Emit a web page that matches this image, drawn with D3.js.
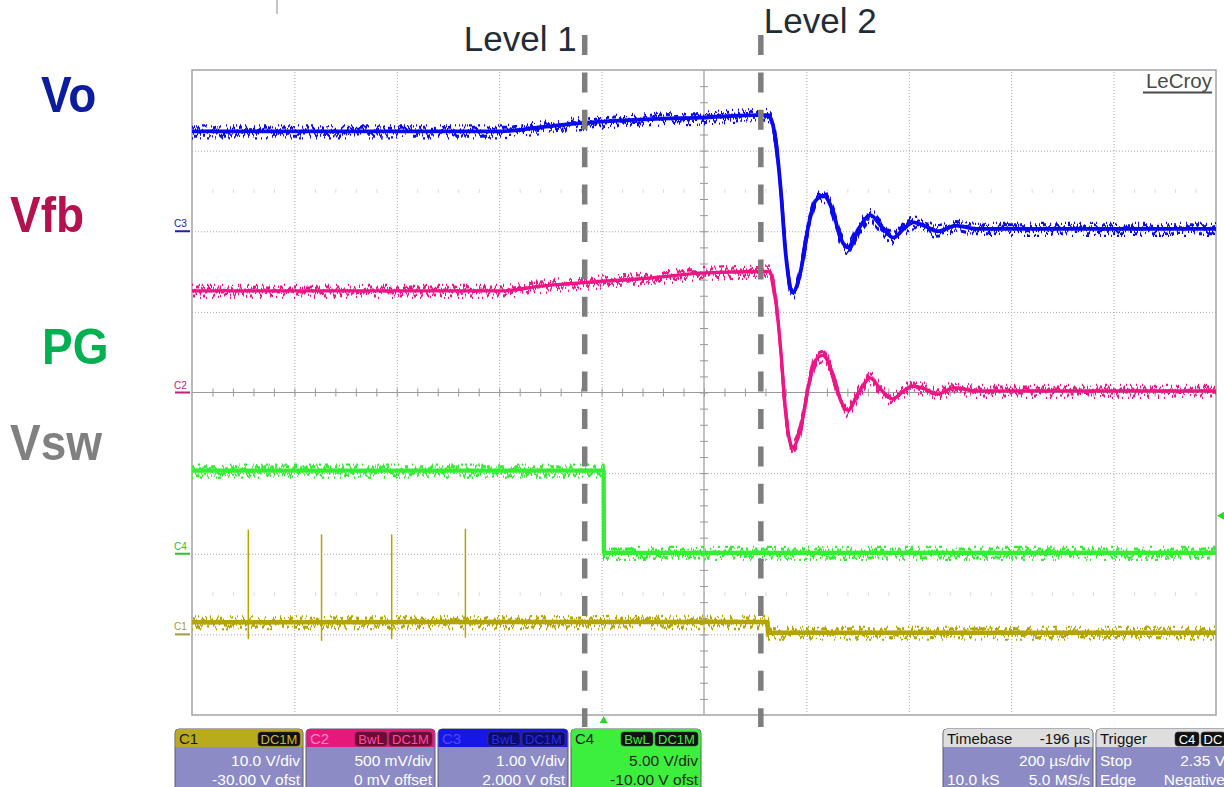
<!DOCTYPE html>
<html>
<head>
<meta charset="utf-8">
<script src="https://cdn.jsdelivr.net/npm/d3@7"></script>
<style>
  body { margin: 0; background: #fff; }
  svg { display: block; font-family: "Liberation Sans", Arial, sans-serif; }
</style>
</head>
<body>
<svg id="scope" width="1224" height="787"></svg>
<script>
// ---- acquisition settings -------------------------------------------------
const timePerDiv = 200;          // µs/div
const timebaseDelay = -196;      // µs
const channelNames = ["C1", "C2", "C3", "C4"];
const voltsPerDiv = [10, 0.5, 1, 5];
const channelOffsets = [-30, 0, 2, -10];
const triggerLevel = 2.35;       // V on C4

// ---- captured traces (time in µs, value in V) ------------------------------
// C3: output voltage Vo
const voTime = [-804, -200, -123, -45, 92, 189, 307, 322, 336, 346, 355, 369, 385, 400, 414, 430,
                447, 463, 477, 498, 521, 541, 566, 586, 605, 629, 652, 688, 727, 1196];
const voVolt = [1.24, 1.24, 1.29, 1.34, 1.39, 1.41, 1.44, 1.44, 1.13, 0.51, -0.24, -0.76, -0.49, 0.07, 0.38, 0.44,
                0.26, -0.09, -0.20, 0.03, 0.20, 0.07, -0.08, 0.03, 0.11, 0.06, 0.00, 0.07, 0.03, 0.03];
// C2: feedback voltage Vfb
const vfbTime = [-804, -200, -123, -45, 92, 189, 307, 324, 336, 346, 355, 369, 385, 400, 414, 428,
                 447, 463, 477, 498, 521, 541, 564, 586, 603, 629, 652, 684, 727, 1196];
const vfbVolt = [0.63, 0.63, 0.66, 0.68, 0.71, 0.74, 0.75, 0.75, 0.57, 0.26, -0.11, -0.34, -0.22, 0.04, 0.20, 0.23,
                 0.12, -0.05, -0.11, 0.00, 0.09, 0.02, -0.04, 0.01, 0.04, 0.02, -0.01, 0.03, 0.01, 0.01];
// C4: power-good PG
const pgTime = [-804, 0, 0.5, 1196];
const pgVolt = [5.15, 5.15, 0.05, 0.05];
// C1: switch node Vsw (baseline, then the narrow switching spikes)
const swTime = [-804, 320, 321, 1196];
const swVolt = [1.5, 1.55, 0.2, 0.2];
const swSpikeTime = [-694, -551, -414, -270];
const swSpikePeak = [13.0, 12.4, 12.4, 13.1];
const swSpikeDip = [-0.6, -0.8, -0.6, -0.4];

// ---- annotations -----------------------------------------------------------
const levelNames = ["Level 1", "Level 2"];
const levelTimes = [-37, 307];
const signalNames = ["Vo", "Vfb", "PG", "Vsw"];
const signalColors = ["#0b1c9e", "#b3124f", "#00b050", "#808080"];

// ---- geometry & scales -----------------------------------------------------
const plot = { left: 192, right: 1216, top: 70, bottom: 715 };
const centerTime = -timebaseDelay;
const x = d3.scaleLinear()
  .domain([centerTime - 5 * timePerDiv, centerTime + 5 * timePerDiv])
  .range([plot.left, plot.right]);
const yDiv = d3.scaleLinear().domain([-4, 4]).range([plot.bottom, plot.top]);
const yChannel = i => d3.scaleLinear()
  .domain([-4 * voltsPerDiv[i] - channelOffsets[i], 4 * voltsPerDiv[i] - channelOffsets[i]])
  .range([plot.bottom, plot.top]);

const svg = d3.select("#scope");
const defs = svg.append("defs");

// noise texture for the acquired traces (vertical jitter only)
function jitterFilter(id, seed, freq, scale) {
  const f = defs.append("filter").attr("id", id)
    .attr("filterUnits", "userSpaceOnUse").attr("x", 0).attr("y", 0)
    .attr("width", 1224).attr("height", 787)
    .attr("color-interpolation-filters", "sRGB");
  f.append("feTurbulence").attr("type", "fractalNoise")
    .attr("baseFrequency", `${freq} 0.01`).attr("numOctaves", 2).attr("seed", seed).attr("result", "n");
  f.append("feColorMatrix").attr("in", "n").attr("type", "matrix")
    .attr("values", "0 0 0 0 0.5  0 3.4 0 0 -1.2  0 0 0 0 0  0 0 0 0 1").attr("result", "m");
  f.append("feDisplacementMap").attr("in", "SourceGraphic").attr("in2", "m")
    .attr("scale", scale).attr("xChannelSelector", "R").attr("yChannelSelector", "G");
}
jitterFilter("jitterA", 7, 0.5, 13);
jitterFilter("jitterB", 23, 0.3, 9);

defs.append("clipPath").attr("id", "plotClip").append("rect")
  .attr("x", plot.left).attr("y", plot.top - 6)
  .attr("width", plot.right - plot.left).attr("height", plot.bottom - plot.top + 12);

defs.append("filter").attr("id", "soft")
  .attr("filterUnits", "userSpaceOnUse").attr("x", 0).attr("y", 0)
  .attr("width", 1224).attr("height", 787)
  .append("feGaussianBlur").attr("stdDeviation", 0.6);

// small tick at the top edge
svg.append("line").attr("x1", 277).attr("x2", 277).attr("y1", 0).attr("y2", 14)
  .attr("stroke", "#8a8a8a").attr("stroke-width", 1);

// ---- graticule -------------------------------------------------------------
const divTimes = d3.range(-4, 5).map(k => centerTime + k * timePerDiv);
const gridX = svg.append("g").attr("transform", `translate(0,${plot.bottom})`)
  .call(d3.axisBottom(x).tickValues(divTimes).tickSize(-(plot.bottom - plot.top)).tickFormat(""));
const gridY = svg.append("g").attr("transform", `translate(${plot.left},0)`)
  .call(d3.axisLeft(yDiv).tickValues([-3, -2, -1, 1, 2, 3]).tickSize(-(plot.right - plot.left)).tickFormat(""));
[gridX, gridY].forEach(g => {
  g.select(".domain").remove();
  g.selectAll(".tick line").attr("stroke", "#a8a8a8").attr("stroke-width", 1)
    .attr("stroke-dasharray", "1,2");
});
gridX.selectAll(".tick").filter(d => d === centerTime).remove();

// faint half-division rows
const fifthTimes = d3.range(-25, 26).map(k => centerTime + k * timePerDiv / 5);
[-2.5, 2.5].forEach(d => {
  const g = svg.append("g").attr("transform", `translate(0,${yDiv(d) - 2})`)
    .call(d3.axisBottom(x).tickValues(fifthTimes.slice(1, -1)).tickSize(4).tickFormat(""));
  g.select(".domain").remove();
  g.selectAll(".tick line").attr("stroke", "#dcdcdc");
});

// center cross with fifth-division ticks
svg.append("line").attr("x1", plot.left).attr("x2", plot.right)
  .attr("y1", yDiv(0)).attr("y2", yDiv(0)).attr("stroke", "#9a9a9a").attr("stroke-width", 1.2);
svg.append("line").attr("x1", x(centerTime)).attr("x2", x(centerTime))
  .attr("y1", plot.top).attr("y2", plot.bottom).attr("stroke", "#9a9a9a").attr("stroke-width", 1.2);
const hTicks = svg.append("g").attr("transform", `translate(0,${yDiv(0) - 4})`)
  .call(d3.axisBottom(x).tickValues(fifthTimes.slice(1, -1)).tickSize(8).tickFormat(""));
const vTicks = svg.append("g").attr("transform", `translate(${x(centerTime) - 4},0)`)
  .call(d3.axisRight(yDiv).tickValues(d3.range(-19, 20).map(k => k / 5)).tickSize(8).tickFormat(""));
[hTicks, vTicks].forEach(g => {
  g.select(".domain").remove();
  g.selectAll(".tick line").attr("stroke", "#9a9a9a").attr("stroke-width", 1);
});

// frame
svg.append("rect").attr("x", plot.left).attr("y", plot.top)
  .attr("width", plot.right - plot.left).attr("height", plot.bottom - plot.top)
  .attr("fill", "none").attr("stroke", "#a4a4a4").attr("stroke-width", 1.5);

// LeCroy mark
svg.append("text").attr("x", 1212).attr("y", 88).attr("text-anchor", "end")
  .attr("font-size", 20.5).attr("fill", "#4a4a4a").text("LeCroy");
svg.append("line").attr("x1", 1143).attr("x2", 1212).attr("y1", 92.5).attr("y2", 92.5)
  .attr("stroke", "#4a4a4a").attr("stroke-width", 1.8);

// ---- channel ground markers --------------------------------------------------
const traceColors = ["#b4a400", "#ee1585", "#0a0aee", "#33ee33"];
const markerColors = ["#a39a3a", "#c0207a", "#2020b0", "#30c030"];
channelNames.forEach((name, i) => {
  const y0 = yChannel(i)(0);
  svg.append("text").attr("x", 174).attr("y", y0 - 4).attr("font-size", 10)
    .attr("fill", markerColors[i]).text(name);
  svg.append("rect").attr("x", 175).attr("y", y0 - 1).attr("width", 15).attr("height", 2)
    .attr("fill", markerColors[i]);
});

// ---- traces ----------------------------------------------------------------
const traces = [
  { ch: 0, t: swTime, v: swVolt, curve: d3.curveLinear, core: 4.5 },
  { ch: 3, t: pgTime, v: pgVolt, curve: d3.curveLinear, core: 4.2 },
  { ch: 1, t: vfbTime, v: vfbVolt, curve: d3.curveMonotoneX, core: 3.4 },
  { ch: 2, t: voTime, v: voVolt, curve: d3.curveMonotoneX, core: 3.8 }
];
const traceLayer = svg.append("g").attr("clip-path", "url(#plotClip)");
traces.forEach(tr => {
  const ys = yChannel(tr.ch);
  const pts = tr.t.map((t, k) => [t, tr.v[k]]);
  const d = d3.line().x(p => x(p[0])).y(p => ys(p[1])).curve(tr.curve)(pts);
  const g = traceLayer.append("g").attr("fill", "none").attr("stroke", traceColors[tr.ch])
    .attr("stroke-linejoin", "round");
  g.append("path").attr("d", d).attr("stroke-width", tr.core);
  g.append("path").attr("d", d).attr("stroke-width", 2.2).attr("filter", "url(#jitterA)");
  g.append("path").attr("d", d).attr("stroke-width", 3).attr("filter", "url(#jitterB)");
});
// Vsw switching spikes: narrow single-sample excursions
{
  const ys = yChannel(0);
  traceLayer.selectAll(".spike").data(swSpikeTime).enter().append("line")
    .attr("x1", t => x(t)).attr("x2", t => x(t))
    .attr("y1", (t, k) => ys(swSpikePeak[k])).attr("y2", (t, k) => ys(swSpikeDip[k]))
    .attr("stroke", traceColors[0]).attr("stroke-width", 1.5);
}

// ---- trigger markers -------------------------------------------------------
const trigY = yChannel(3)(triggerLevel);
svg.append("path").attr("d", `M1217,${trigY} L1224,${trigY - 4} L1224,${trigY + 4} Z`).attr("fill", "#22dd22");
svg.append("path").attr("d", `M${x(0)},716 L${x(0) - 4},723 L${x(0) + 4},723 Z`).attr("fill", "#22dd22");

// ---- level annotations -----------------------------------------------------
levelTimes.forEach(t => {
  svg.append("line").attr("x1", x(t)).attr("x2", x(t)).attr("y1", 35).attr("y2", 727)
    .attr("stroke", "#7e7e7e").attr("stroke-width", 5.5)
    .attr("stroke-dasharray", "20 17.4").attr("filter", "url(#soft)");
});
svg.append("text").attr("x", x(levelTimes[0]) - 8).attr("y", 51).attr("text-anchor", "end")
  .attr("font-size", 35).attr("fill", "#1f2d36").text(levelNames[0]);
svg.append("text").attr("x", x(levelTimes[1]) + 3).attr("y", 33)
  .attr("font-size", 35).attr("fill", "#1f2d36").text(levelNames[1]);

// ---- signal names ----------------------------------------------------------
const labelPos = [[41, 112], [10, 232], [42, 364], [10, 460]];
signalNames.forEach((s, i) => {
  svg.append("text")
    .attr("transform", `translate(${labelPos[i][0]},${labelPos[i][1]}) scale(1,1.1)`)
    .attr("font-size", 46).attr("font-weight", "bold").attr("fill", signalColors[i]).text(s);
});

// ---- channel descriptor boxes ---------------------------------------------
const bodyFill = "#8c8bc6";
function badge(g, xRight, label, bg, fg, w) {
  g.append("rect").attr("x", xRight - w).attr("y", 732).attr("width", w).attr("height", 14)
    .attr("rx", 3).attr("fill", bg).attr("stroke", "#444").attr("stroke-width", 0.6);
  g.append("text").attr("x", xRight - w / 2).attr("y", 744).attr("text-anchor", "middle")
    .attr("font-size", 13).attr("fill", fg).text(label);
  return xRight - w - 2;
}
function box(cfg) {
  const g = svg.append("g");
  g.append("rect").attr("x", cfg.x).attr("y", 729).attr("width", cfg.w).attr("height", 70)
    .attr("rx", 4).attr("fill", cfg.body).attr("stroke", "#5a5a6a").attr("stroke-width", 1);
  g.append("path")
    .attr("d", `M${cfg.x + 0.5},747 V733 a4,4 0 0 1 4,-4 H${cfg.x + cfg.w - 4.5} a4,4 0 0 1 4,4 V747 Z`)
    .attr("fill", cfg.head);
  g.append("text").attr("x", cfg.x + 4).attr("y", 744).attr("font-size", 15)
    .attr("fill", cfg.headText).text(cfg.title);
  if (cfg.headRight) {
    g.append("text").attr("x", cfg.x + cfg.w - 3).attr("y", 744).attr("text-anchor", "end")
      .attr("font-size", 15).attr("fill", cfg.headText).text(cfg.headRight);
  }
  let xr = cfg.x + cfg.w - 3;
  (cfg.badges || []).forEach(b => { xr = badge(g, xr, b[0], cfg.badgeBg, cfg.badgeFg, b[1]); });
  cfg.lines.forEach((ln, k) => {
    const y = 766 + k * 19;
    if (ln[0]) g.append("text").attr("x", cfg.x + 4).attr("y", y).attr("font-size", 15.5)
      .attr("fill", cfg.bodyText).text(ln[0]);
    if (ln[1]) g.append("text").attr("x", cfg.x + cfg.w - 3).attr("y", y).attr("text-anchor", "end")
      .attr("font-size", 15.5).attr("fill", cfg.bodyText).text(ln[1]);
  });
}
box({ x: 175, w: 128, head: "#b9ab1e", headText: "#1a1a1a", title: "C1",
      badges: [["DC1M", 42]], badgeBg: "#111", badgeFg: "#c9b92c", body: bodyFill, bodyText: "#fff",
      lines: [[null, "10.0 V/div"], [null, "-30.00 V ofst"]] });
box({ x: 306, w: 129, head: "#e8177c", headText: "#ff8cc6", title: "C2",
      badges: [["DC1M", 43], ["BwL", 32]], badgeBg: "#6e0a36", badgeFg: "#ff4aa6", body: bodyFill, bodyText: "#fff",
      lines: [[null, "500 mV/div"], [null, "0 mV offset"]] });
box({ x: 438, w: 130, head: "#1616e6", headText: "#4a4aff", title: "C3",
      badges: [["DC1M", 43], ["BwL", 32]], badgeBg: "#0b0b72", badgeFg: "#2c2ce0", body: bodyFill, bodyText: "#fff",
      lines: [[null, "1.00 V/div"], [null, "2.000 V ofst"]] });
box({ x: 571, w: 130, head: "#3cef3c", headText: "#1a1a1a", title: "C4",
      badges: [["DC1M", 43], ["BwL", 32]], badgeBg: "#111", badgeFg: "#3cef3c", body: "#3cef3c", bodyText: "#1c2a1c",
      lines: [[null, "5.00 V/div"], [null, "-10.00 V ofst"]] });
box({ x: 943, w: 150, head: "#dedede", headText: "#111", title: "Timebase", headRight: "-196 µs",
      body: bodyFill, bodyText: "#fff",
      lines: [[null, "200 µs/div"], ["10.0 kS", "5.0 MS/s"]] });
box({ x: 1096, w: 132, head: "#dedede", headText: "#111", title: "Trigger",
      badges: [["DC", 24], ["C4", 24]], badgeBg: "#111", badgeFg: "#fff", body: bodyFill, bodyText: "#fff",
      lines: [["Stop", "2.35 V"], ["Edge", "Negative"]] });
</script>
</body>
</html>
